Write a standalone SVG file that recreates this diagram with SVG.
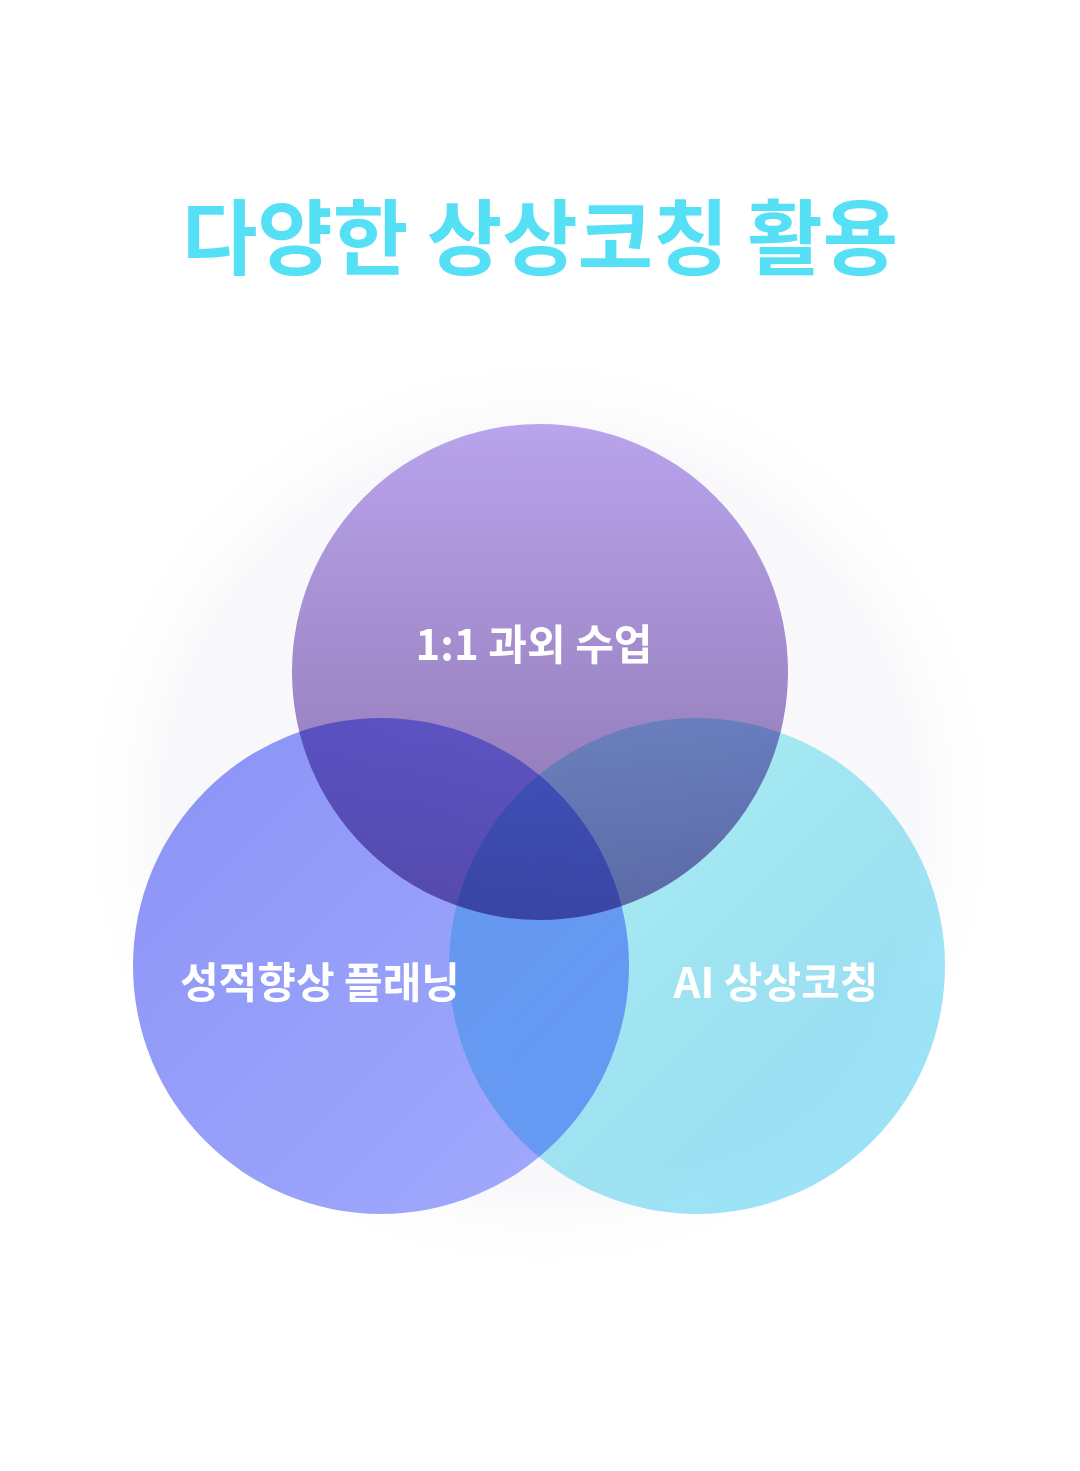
<svg xmlns="http://www.w3.org/2000/svg" width="1080" height="1471" viewBox="0 0 1080 1471">
<style>
.t{font-family:"Noto Sans CJK KR","Noto Sans",sans-serif;font-weight:700}
.lbl{font-family:"Noto Sans CJK KR","Noto Sans",sans-serif;font-weight:700;font-size:42px;fill:#fff;text-anchor:middle}
</style>
<defs>
<linearGradient id="gt" x1="0" y1="0" x2="0" y2="1"><stop offset="0" stop-color="#BDA8F0"/><stop offset="1" stop-color="#8F74AE"/></linearGradient>
<linearGradient id="gl" x1="0" y1="0" x2="1" y2="1"><stop offset="0" stop-color="#8A93F5"/><stop offset="1" stop-color="#A2ABFD"/></linearGradient>
<linearGradient id="gr" x1="0" y1="0" x2="1" y2="1"><stop offset="0" stop-color="#A6F8F4"/><stop offset="1" stop-color="#8AD9F6"/></linearGradient>
<radialGradient id="glow"><stop offset="0.8" stop-color="#f4f4f8"/><stop offset="1" stop-color="#ffffff" stop-opacity="0"/></radialGradient>
</defs>
<rect width="1080" height="1471" fill="#fff"/>
<circle cx="540" cy="815" r="470" fill="url(#glow)" opacity="0.6"/>
<text class="t" x="540" y="268" font-size="82" fill="#56E0F6" text-anchor="middle">다양한 상상코칭 활용</text>
<g id="left"><circle cx="381" cy="966" r="248" fill="url(#gl)"/></g>
<g id="right"><circle cx="697" cy="966" r="248" fill="url(#gr)" style="mix-blend-mode:multiply" opacity="0.88"/></g>
<g id="top"><circle cx="540" cy="672" r="248" fill="url(#gt)" style="mix-blend-mode:multiply"/></g>
<g id="labels">
<text class="lbl" x="534" y="660">1:1 과외 수업</text>
<text class="lbl" x="320" y="998">성적향상 플래닝</text>
<text class="lbl" x="776" y="998">AI 상상코칭</text>
</g>
<g id="connectors"/>
</svg>
